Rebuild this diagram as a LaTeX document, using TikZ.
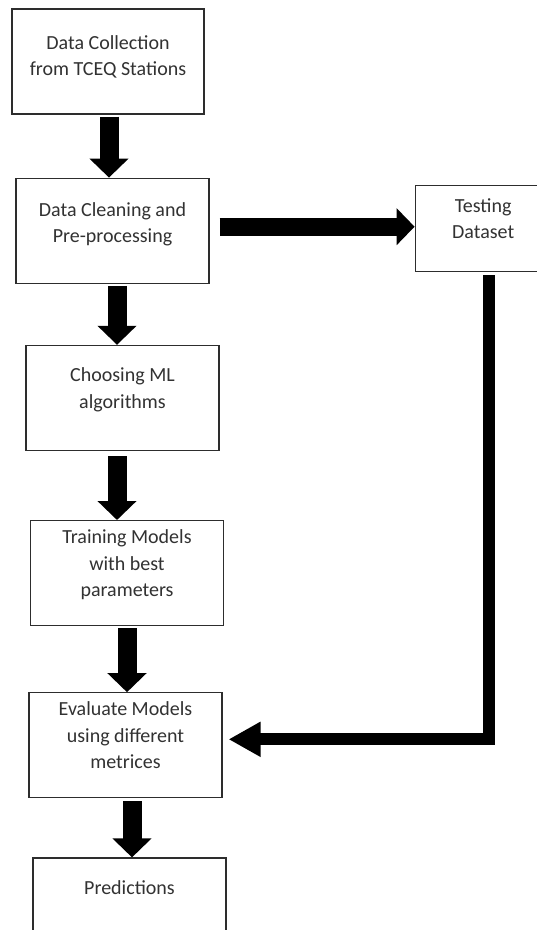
\documentclass[tikz,border=0pt]{standalone}
\usepackage{fontspec}
\setmainfont{Carlito}
\usepackage{tikz}
\usetikzlibrary{positioning,arrows.meta}
\definecolor{fcline}{RGB}{45,45,45}
\definecolor{fcink}{RGB}{50,50,50}
\newcommand{\boxfoot}[1]{\rule[-#1]{0pt}{0pt}}
\tikzset{
  footdrop/.store in=\footdepth, footdrop=20pt,
  stepbox/.style={draw=fcline, line width=1.2pt, fill=white, align=center,
                  minimum width=193pt, minimum height=105pt, inner sep=0pt,
                  font=\fontsize{20}{26.5}\selectfont, text=fcink,
                  execute at begin node=\strut, execute at end node={\boxfoot{\footdepth}}},
  testbox/.style={stepbox, minimum width=136pt, minimum height=86pt},
  endbox/.style={stepbox, minimum height=84pt, footdrop=30pt},
  blk/.style={-{Triangle[length=19pt,width=38pt]}, line width=19pt, color=black},
  side/.style={-{Triangle[length=18pt,width=36pt]}, line width=18pt, color=black},
  ret/.style={-{Triangle[length=32pt,width=33pt]}, line width=12pt, line join=miter, color=black},
}
\begin{document}
\begin{tikzpicture}[x=1pt, y=-1pt]
\clip (0,0) rectangle (537,930);
\node[stepbox, minimum width=192pt, footdrop=12pt] (collect) at (108,61.5) {Data Collection\\from TCEQ Stations};
\node[stepbox, below=63pt of collect, xshift=4.5pt, footdrop=16pt] (clean) {Data Cleaning and\\Pre-processing};
\node[testbox, right=205pt of clean, yshift=2pt] (test) {Testing\\Dataset};
\node[stepbox, below=61pt of clean, xshift=10pt] (choose) {Choosing ML\\algorithms};
\node[stepbox, below=69pt of choose, xshift=4.5pt] (train) {Training Models\\with best\\parameters};
\node[stepbox, below=66pt of train, xshift=-1.5pt] (eval) {Evaluate Models\\using different\\metrices};
\node[endbox, below=59pt of eval, xshift=4pt] (pred) {Predictions};

% main flow
\draw[blk] ([xshift=1pt,yshift=-2pt]collect.south) -- ([xshift=1pt]collect.south |- clean.north);
\draw[blk] ([xshift=4.5pt,yshift=-2pt]clean.south) -- ([xshift=4.5pt]clean.south |- choose.north);
\draw[blk] ([xshift=-5.5pt,yshift=-5pt]choose.south) -- ([xshift=-5.5pt]choose.south |- train.north);
\draw[blk] ([yshift=-2pt]train.south) -- (train.south |- eval.north);
\draw[blk] ([xshift=6.5pt,yshift=-3pt]eval.south) -- ([xshift=6.5pt]eval.south |- pred.north);

% test split and back
\draw[side] ([xshift=10pt,yshift=4pt]clean.east) -- ([yshift=4pt]clean.east -| test.west);
\draw[ret, shorten >=6pt] ([xshift=6pt,yshift=-3pt]test.south) |- ([yshift=6pt]eval.east);
\end{tikzpicture}
\end{document}
